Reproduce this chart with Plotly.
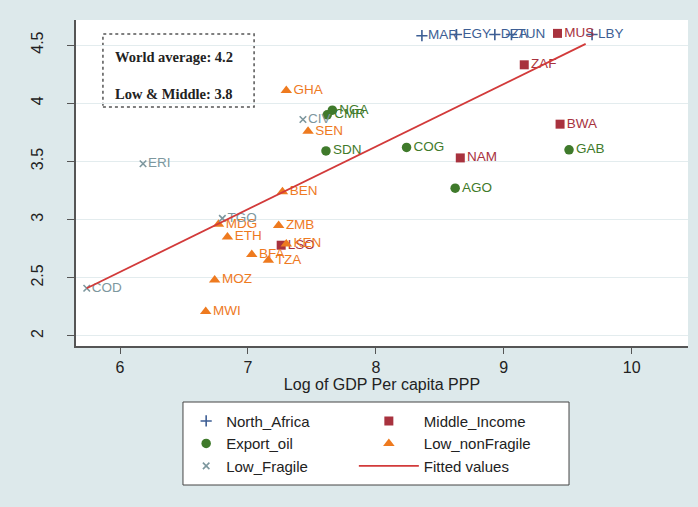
import plotly.graph_objects as go

# ---- data ----
na_names = ["MAR", "EGY", "DZA", "TUN", "LBY"]
na_x = [8.36, 8.63, 8.93, 9.06, 9.69]
na_y = [4.58, 4.59, 4.59, 4.59, 4.59]

mi_names = ["MUS", "ZAF", "BWA", "NAM", "LSO"]
mi_x = [9.42, 9.16, 9.44, 8.66, 7.26]
mi_y = [4.60, 4.33, 3.82, 3.53, 2.78]

eo_names = ["NGA", "CMR", "SDN", "COG", "AGO", "GAB"]
eo_x = [7.66, 7.62, 7.61, 8.24, 8.62, 9.51]
eo_y = [3.94, 3.90, 3.59, 3.62, 3.27, 3.60]

ln_names = ["GHA", "SEN", "BEN", "MDG", "ETH", "ZMB", "KEN", "BFA", "TZA", "MOZ", "MWI"]
ln_x = [7.30, 7.47, 7.27, 6.77, 6.84, 7.24, 7.30, 7.03, 7.16, 6.74, 6.67]
ln_y = [4.11, 3.76, 3.24, 2.96, 2.85, 2.95, 2.79, 2.70, 2.65, 2.48, 2.21]

lf_names = ["CIV", "ERI", "TGO", "COD"]
lf_x = [7.43, 6.18, 6.80, 5.74]
lf_y = [3.86, 3.48, 3.01, 2.41]

fit_x = [5.74, 9.64]
fit_y = [2.41, 4.51]

x_ticks = [6, 7, 8, 9, 10]
y_ticks = [2, 2.5, 3, 3.5, 4, 4.5]
y_tick_text = ["2", "2.5", "3", "3.5", "4", "4.5"]

box_lines = ["World average: 4.2", "Low & Middle: 3.8"]

# ---- styling ----
C_NAVY = "#3d5e94"
C_MAROON = "#a8323e"
C_GREEN = "#3f7a2b"
C_ORANGE = "#ee7a1f"
C_TEAL = "#7d979e"
C_RED = "#d23a3a"
BG = "#dde9eb"
LABEL_FONT = dict(family="Liberation Sans, Arial, sans-serif", size=13.5)

fig = go.Figure()


def add_group(name, xs, ys, labels, symbol, color, size, legend, line_w=0):
    marker = dict(symbol=symbol, color=color, size=size)
    if line_w:
        marker["line"] = dict(color=color, width=line_w)
    fig.add_trace(go.Scatter(
        x=xs, y=ys, text=labels, mode="markers+text", name=name,
        textposition="middle right",
        textfont=dict(color=color, **LABEL_FONT),
        marker=marker, cliponaxis=False, legend=legend,
    ))


add_group("North_Africa", na_x, na_y, na_names, "cross-thin", C_NAVY, 8, "legend", 1.6)
add_group("Middle_Income", mi_x, mi_y, mi_names, "square", C_MAROON, 9, "legend2")
add_group("Export_oil", eo_x, eo_y, eo_names, "circle", C_GREEN, 9.5, "legend")
add_group("Low_nonFragile", ln_x, ln_y, ln_names, "triangle-up", C_ORANGE, 10, "legend2")
add_group("Low_Fragile", lf_x, lf_y, lf_names, "x-thin", C_TEAL, 6.5, "legend", 1.6)

fig.add_trace(go.Scatter(
    x=fit_x, y=fit_y, mode="lines", name="Fitted values",
    line=dict(color=C_RED, width=1.8), legend="legend2",
))

# dashed text box
fig.add_shape(type="rect", xref="paper", yref="paper",
              x0=0.044, x1=0.291, y0=0.733, y1=0.957,
              line=dict(color="#555555", width=1.5, dash="dot"),
              fillcolor="white", layer="below")
for i, t in enumerate(box_lines):
    fig.add_annotation(xref="paper", yref="paper", x=0.060, y=[0.887, 0.773][i],
                       text="<b>" + t + "</b>", showarrow=False, xanchor="left",
                       yanchor="middle",
                       font=dict(family="Liberation Serif, Times New Roman, serif",
                                 size=14.5, color="#222222"))

# legend frame
fig.add_shape(type="rect", xref="paper", yref="paper",
              x0=0.1748, x1=0.8056, y0=-0.4264, y1=-0.1718,
              line=dict(color="#444444", width=1), fillcolor="white", layer="below")

axis_font = dict(family="Liberation Sans, Arial, sans-serif", size=16, color="#222222")
leg_font = dict(family="Liberation Sans, Arial, sans-serif", size=15, color="#222222")

fig.update_layout(
    width=698, height=507,
    margin=dict(l=76, r=10, t=20, b=161, autoexpand=False),
    paper_bgcolor=BG, plot_bgcolor="white",
    font=axis_font,
    showlegend=True,
    legend=dict(
        orientation="v", x=0.18, xanchor="left", y=-0.18, yanchor="top",
        bgcolor="rgba(0,0,0,0)", borderwidth=0, font=leg_font,
        tracegroupgap=0, traceorder="normal", itemwidth=30,
    ),
    legend2=dict(
        orientation="v", x=0.454, xanchor="left", y=-0.18, yanchor="top",
        bgcolor="rgba(0,0,0,0)", borderwidth=0, font=leg_font,
        tracegroupgap=0, traceorder="normal", itemwidth=60,
    ),
    xaxis=dict(
        range=[5.656, 10.44], tickvals=x_ticks, showgrid=False, zeroline=False,
        showline=True, linecolor="#555555", linewidth=1.5,
        ticks="outside", ticklen=6, tickcolor="#555555",
        title=dict(text="Log of GDP Per capita PPP", standoff=0, font=axis_font),
        tickfont=axis_font,
    ),
    yaxis=dict(
        range=[1.914, 4.715], tickvals=y_ticks, ticktext=y_tick_text,
        tickangle=-90, showgrid=True, gridcolor="#e3ecee", gridwidth=1,
        zeroline=False, showline=True, linecolor="#555555", linewidth=1.5,
        ticks="outside", ticklen=7, tickcolor="#555555", tickfont=axis_font,
        ticklabelstandoff=18,
    ),
)

fig.write_html("out.html", config={"displayModeBar": False},
               post_script="document.body.style.margin='0';")
